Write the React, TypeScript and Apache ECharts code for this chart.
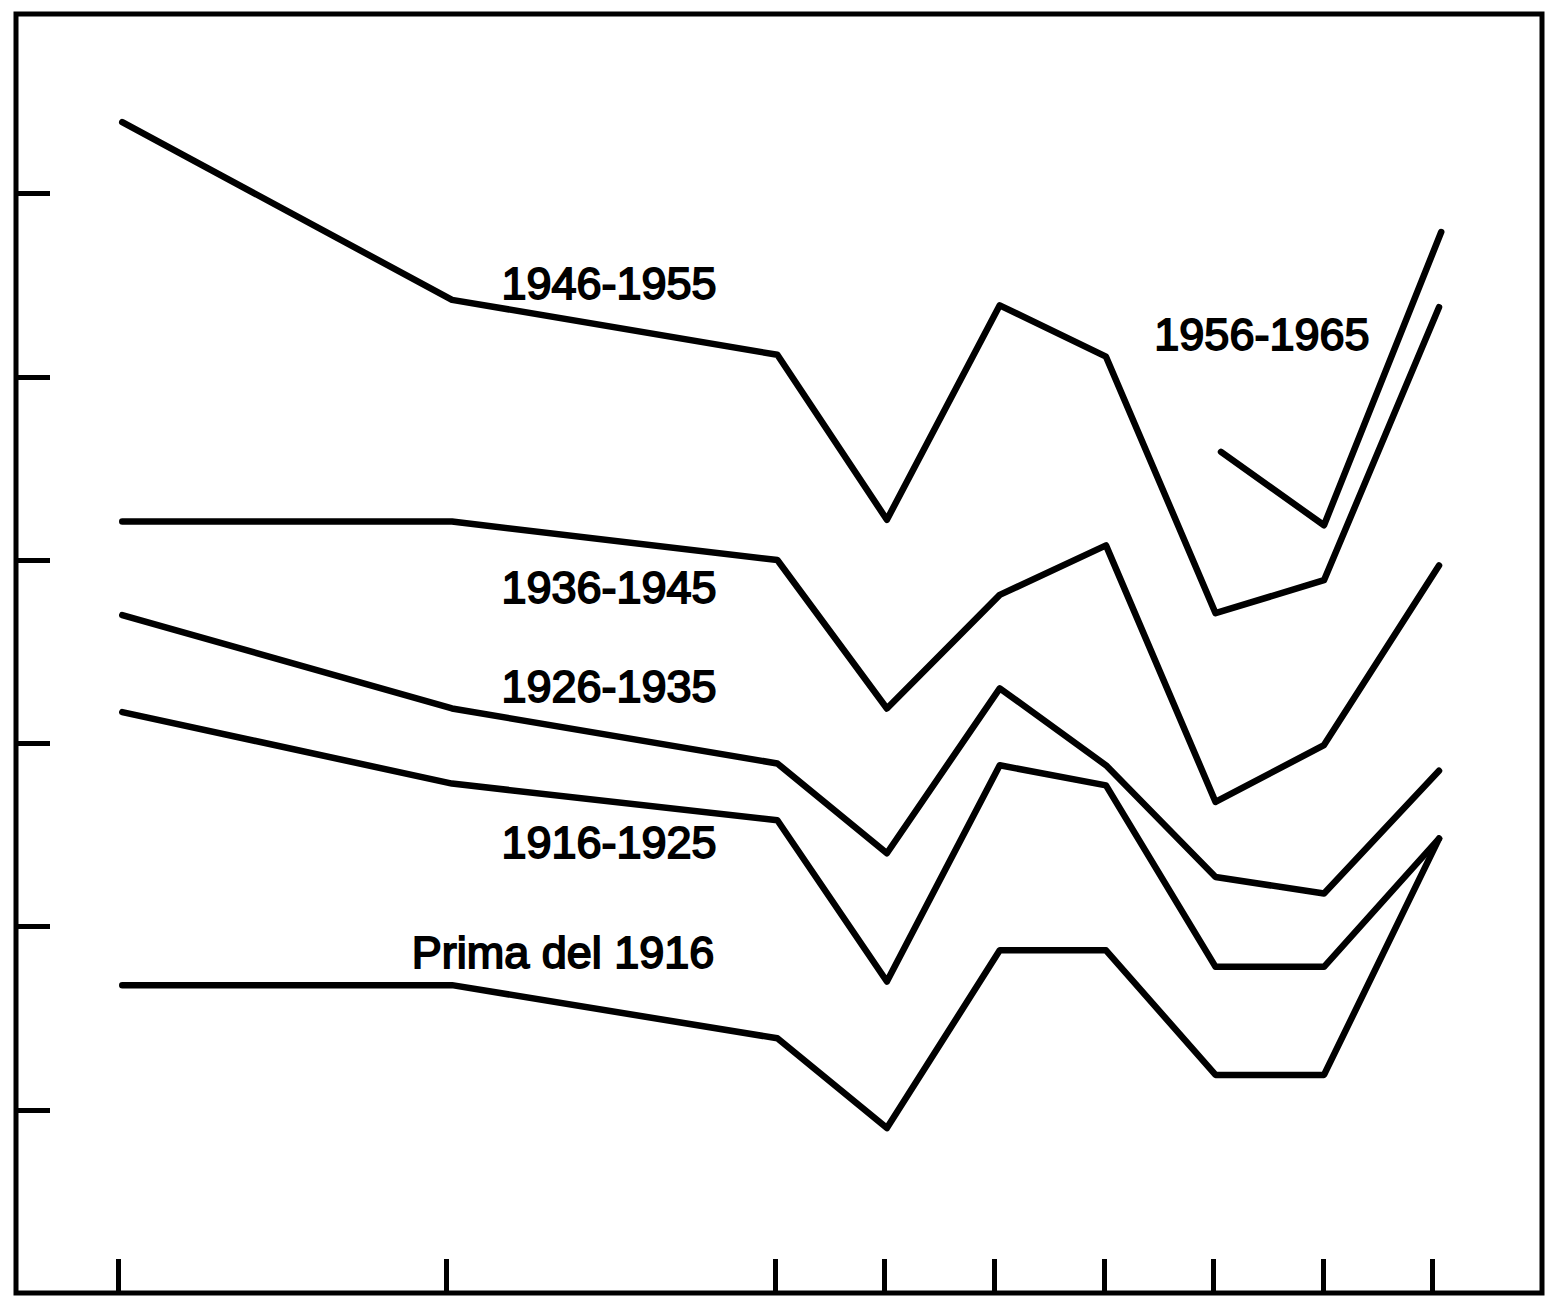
import React, { useEffect, useRef } from "react";
import * as echarts from "echarts";

// x positions of the nine survey points (axis units, ticks at 0,3,6,7,...,12)
const X_POINTS = [0.04, 3.05, 6.02, 7.02, 8.05, 9.02, 10.02, 11.01, 12.06];
const X_TICKS = [0, 3, 6, 7, 8, 9, 10, 11, 12];
const Y_TICKS = [1, 2, 3, 4, 5, 6];

const S_1946_1955 = [6.39, 5.42, 5.12, 4.22, 5.39, 5.11, 3.71, 3.89, 5.38];
const X_1956_1965 = [10.07, 11.01, 12.08];
const S_1956_1965 = [4.59, 4.19, 5.79];
const S_1936_1945 = [4.21, 4.21, 4.0, 3.19, 3.81, 4.08, 2.68, 2.99, 3.97];
const S_1926_1935 = [3.7, 3.19, 2.89, 2.4, 3.3, 2.88, 2.27, 2.18, 2.85];
const S_1916_1925 = [3.17, 2.78, 2.58, 1.7, 2.88, 2.77, 1.78, 1.78, 2.48];
const S_PRIMA_1916 = [1.68, 1.68, 1.39, 0.9, 1.87, 1.87, 1.19, 1.19, 2.48];

// label anchor (right edge, vertical centre) in axis units
const LABELS = [
  { name: "1946-1955", x: 5.47, y: 5.51 },
  { name: "1956-1965", x: 11.43, y: 5.23 },
  { name: "1936-1945", x: 5.47, y: 3.85 },
  { name: "1926-1935", x: 5.47, y: 3.31 },
  { name: "1916-1925", x: 5.47, y: 2.46 },
  { name: "Prima del 1916", x: 5.45, y: 1.86 },
];

const SERIES = [
  { name: "1946-1955", xs: X_POINTS, ys: S_1946_1955 },
  { name: "1956-1965", xs: X_1956_1965, ys: S_1956_1965 },
  { name: "1936-1945", xs: X_POINTS, ys: S_1936_1945 },
  { name: "1926-1935", xs: X_POINTS, ys: S_1926_1935 },
  { name: "1916-1925", xs: X_POINTS, ys: S_1916_1925 },
  { name: "Prima del 1916", xs: X_POINTS, ys: S_PRIMA_1916 },
];

export default function App() {
  const ref = useRef<HTMLDivElement>(null);

  useEffect(() => {
    if (!ref.current) return;
    const chart = echarts.init(ref.current, undefined, { renderer: "svg" });
    const labelText = {
      fontFamily: "Liberation Sans, Arial, sans-serif",
      fontSize: 45,
      color: "#000",
      textBorderColor: "#000",
      textBorderWidth: 1.8,
    };
    const series: any[] = SERIES.map((s) => {
      const lab = LABELS.find((l) => l.name === s.name)!;
      return {
        type: "line",
        name: s.name,
        data: s.xs.map((x, i) => [x, s.ys[i]]),
        symbol: "none",
        silent: true,
        lineStyle: { color: "#000", width: 6.5, cap: "round", join: "round" },
        markPoint: {
          silent: true,
          symbol: "circle",
          symbolSize: 1,
          itemStyle: { color: "rgba(0,0,0,0)" },
          label: {
            show: true,
            position: "left",
            distance: 0,
            formatter: () => lab.name,
            ...labelText,
          },
          data: [{ coord: [lab.x, lab.y] }],
        },
      };
    });

    chart.setOption({
      animation: false,
      backgroundColor: "#fff",
      grid: {
        left: 16,
        right: 4,
        top: 14,
        bottom: 4,
        show: true,
        borderColor: "#000",
        borderWidth: 5,
        backgroundColor: "transparent",
      },
      xAxis: {
        type: "value",
        min: -0.93,
        max: 13,
        axisLine: { show: false, onZero: false },
        splitLine: { show: false },
        axisLabel: { show: false },
        axisTick: {
          show: true,
          inside: true,
          length: 34,
          customValues: X_TICKS,
          lineStyle: { color: "#000", width: 5 },
        },
      },
      yAxis: {
        type: "value",
        min: 0,
        max: 6.98,
        axisLine: { show: false, onZero: false },
        splitLine: { show: false },
        axisLabel: { show: false },
        axisTick: {
          show: true,
          inside: true,
          length: 34,
          customValues: Y_TICKS,
          lineStyle: { color: "#000", width: 5 },
        },
      },
      series,
    });
    return () => chart.dispose();
  }, []);

  return (
    <div
      ref={ref}
      style={{ position: "absolute", left: 0, top: 0, width: 1546, height: 1297, background: "#fff" }}
    />
  );
}
